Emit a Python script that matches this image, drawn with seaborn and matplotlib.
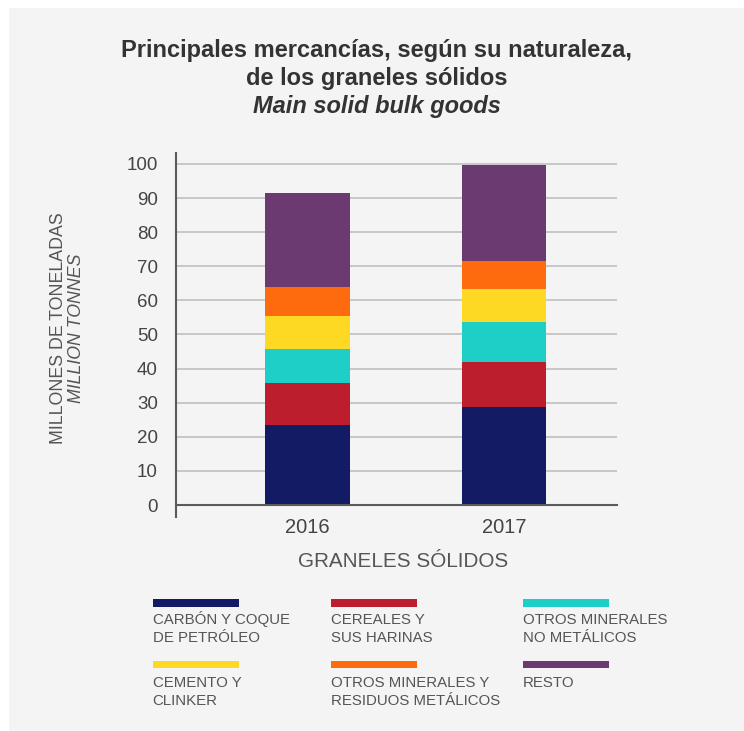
import numpy as np
import pandas as pd
import matplotlib
matplotlib.use('Agg')
import matplotlib.pyplot as plt
from matplotlib.patches import Rectangle
import seaborn as sns

years = ['2016', '2017']
categories = ['CARBÓN Y COQUE\nDE PETRÓLEO', 'CEREALES Y\nSUS HARINAS',
              'OTROS MINERALES\nNO METÁLICOS', 'CEMENTO Y\nCLINKER',
              'OTROS MINERALES Y\nRESIDUOS METÁLICOS', 'RESTO']
values_2016 = [23.5, 12.3, 9.9, 9.8, 8.3, 27.7]
values_2017 = [28.7, 13.1, 11.9, 9.6, 8.3, 28.2]
colors = ['#131b64', '#bd1e2d', '#1ecfc8', '#fed924', '#fe6a0e', '#6a3a71']
yticks = [0, 10, 20, 30, 40, 50, 60, 70, 80, 90, 100]

sns.set_style('white')
plt.rcParams['font.family'] = ['Liberation Sans', 'DejaVu Sans']

W, H = 744, 731
fig = plt.figure(figsize=(W / 100, H / 100), dpi=100, facecolor='white')
fig.patches.append(Rectangle((9 / W, 0), 1 - 9 / W, 1 - 8 / H, transform=fig.transFigure,
                             facecolor='#f4f4f4', edgecolor='none', zorder=-10))


def fx(px):
    return px / W


def fy(py):
    return 1 - py / H


ax = fig.add_axes([fx(176), fy(517), 441 / W, 364 / H])
ax.set_facecolor('#f4f4f4')

# long table + cumulative totals for the stacked bars
df = pd.DataFrame({
    'year': np.repeat(years, len(categories)),
    'cat': categories * len(years),
    'value': values_2016 + values_2017,
})
df['cum'] = df.groupby('year')['value'].cumsum()

for i in range(len(categories) - 1, -1, -1):
    sub = df[df['cat'] == categories[i]]
    sns.barplot(data=sub, x='year', y='cum', order=years, color=colors[i],
                saturation=1, width=0.43, linewidth=0, ax=ax, zorder=3)

ax.set_xlim(-0.671, 1.576)
ax.set_ylim(-3.5, 103.2)
ax.set_yticks(yticks)
ax.set_xlabel('')
ax.set_ylabel('')

ax.yaxis.grid(True, color='#c4c4c4', linewidth=1.3, zorder=0)
ax.set_axisbelow(True)

for s in ['top', 'right']:
    ax.spines[s].set_visible(False)
ax.spines['left'].set_color('#5a5a5a')
ax.spines['left'].set_linewidth(1.5)
ax.spines['bottom'].set_position(('data', 0))
ax.spines['bottom'].set_color('#5a5a5a')
ax.spines['bottom'].set_linewidth(1.5)
ax.spines['bottom'].set_zorder(4)

ax.tick_params(axis='y', direction='out', length=3, width=1, color='#8a8a8a',
               pad=10, labelsize=13.5, labelcolor='#444444')
ax.tick_params(axis='x', which='major', length=0, pad=9, labelsize=14.5,
               labelcolor='#444444')
ax.set_xticks([1.576], minor=True)
ax.tick_params(axis='x', which='minor', direction='out', length=6, width=1.5,
               color='#5a5a5a')

# titles
title_kw = dict(ha='center', va='baseline', fontsize=17, fontweight='bold', color='#333333')
fig.text(fx(376.5), fy(56.7), 'Principales mercancías, según su naturaleza,', **title_kw)
fig.text(fx(376.5), fy(85), 'de los graneles sólidos', **title_kw)
fig.text(fx(376.5), fy(113.3), 'Main solid bulk goods', fontstyle='italic', **title_kw)

# axis labels
fig.text(fx(58.3), fy(328), 'MILLONES DE TONELADAS', rotation=90,
         ha='center', va='center', fontsize=12.8, color='#555555')
fig.text(fx(76.7), fy(328), 'MILLION TONNES', rotation=90,
         ha='center', va='center', fontsize=12.8, fontstyle='italic', color='#555555')
fig.text(fx(403), fy(566.7), 'GRANELES SÓLIDOS', ha='center', va='baseline',
         fontsize=14.9, color='#555555')

# legend: colour strip above wrapped text
col_x = [152.7, 331, 522.7]
row_bar = [603, 664.3]
row_base = [624.3, 686.7]
for i, (cat, col) in enumerate(zip(categories, colors)):
    r, c = divmod(i, 3)
    x0 = col_x[c]
    fig.patches.append(Rectangle((fx(x0), fy(row_bar[r] + 3.7)), 86 / W, 7.4 / H,
                                 transform=fig.transFigure, facecolor=col,
                                 edgecolor='none'))
    for k, line in enumerate(cat.split('\n')):
        fig.text(fx(x0), fy(row_base[r] + 18 * k), line, ha='left', va='baseline',
                 fontsize=10.8, color='#555555')

fig.savefig('out.png', dpi=100, facecolor='white')
